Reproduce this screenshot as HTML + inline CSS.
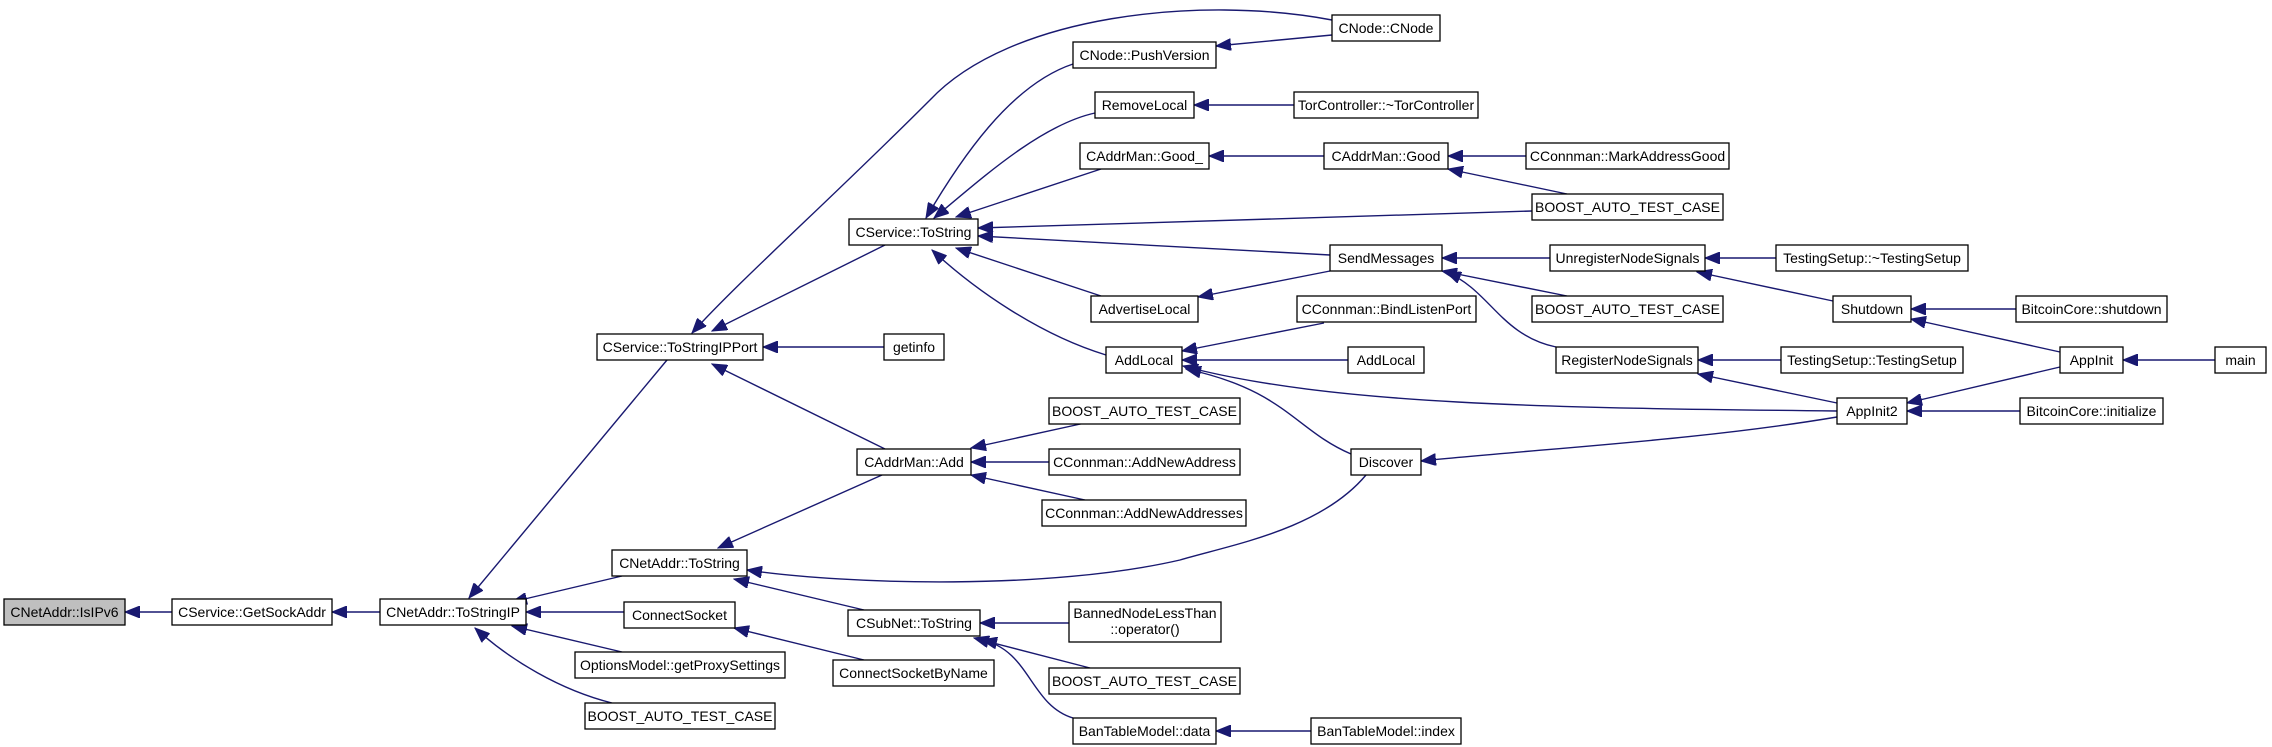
<!DOCTYPE html>
<html><head><meta charset="utf-8"><style>
html,body{margin:0;padding:0;background:#fff;}
svg{display:block;}
text{font-family:"Liberation Sans",Arial,sans-serif;font-size:14px;fill:#000;}
.e{fill:none;stroke:#191970;stroke-width:1.4;marker-end:url(#a);}
rect{fill:#fff;stroke:#000;stroke-width:1.3;}
</style></head><body>
<svg width="2272" height="747" viewBox="0 0 2272 747" xmlns="http://www.w3.org/2000/svg">
<defs><marker id="a" markerUnits="userSpaceOnUse" markerWidth="16" markerHeight="12" refX="15" refY="6" orient="auto"><path d="M0,0 L15,6 L0,12 z" fill="#191970" stroke="#191970"/></marker></defs>
<g>
<path class="e" d="M172,612 L125,612"/>
<path class="e" d="M380,612 L332,612"/>
<path class="e" d="M667,360 L469,598"/>
<path class="e" d="M622,576 L512,602"/>
<path class="e" d="M624,612 L526,612"/>
<path class="e" d="M622,652 L512,626"/>
<path class="e" d="M612,703 C560,690 510,660 475,628"/>
<path class="e" d="M885,245 L712,331"/>
<path class="e" d="M884,347 L763,347"/>
<path class="e" d="M885,449 L712,364"/>
<path class="e" d="M1332,20 C1200,-5 1010,15 930,100 C830,200 740,280 692,333"/>
<path class="e" d="M1073,64 C1010,85 960,160 926,218"/>
<path class="e" d="M1332,35 L1216,46"/>
<path class="e" d="M1095,113 C1040,125 980,180 934,218"/>
<path class="e" d="M1294,105 L1194,105"/>
<path class="e" d="M1101,169 L956,217"/>
<path class="e" d="M1324,156 L1448,156" style="marker-end:none"/>
<path class="e" d="M1324,156 L1209,156"/>
<path class="e" d="M1526,156 L1448,156"/>
<path class="e" d="M1567,194 L1448,169"/>
<path class="e" d="M1532,211 L978,228"/>
<path class="e" d="M1330,255 L978,236"/>
<path class="e" d="M1101,296 L956,248"/>
<path class="e" d="M1106,355 C1040,335 975,290 932,250"/>
<path class="e" d="M1330,271 L1198,297"/>
<path class="e" d="M1550,258 L1442,258"/>
<path class="e" d="M1567,296 L1442,271"/>
<path class="e" d="M1556,347 C1500,335 1490,290 1446,272"/>
<path class="e" d="M1776,258 L1705,258"/>
<path class="e" d="M1833,301 L1697,272"/>
<path class="e" d="M2016,309 L1911,309"/>
<path class="e" d="M2060,352 L1911,319"/>
<path class="e" d="M2215,360 L2123,360"/>
<path class="e" d="M1781,360 L1698,360"/>
<path class="e" d="M1837,403 L1698,374"/>
<path class="e" d="M2060,367 L1907,403"/>
<path class="e" d="M2020,411 L1907,411"/>
<path class="e" d="M1837,411 C1550,408 1330,405 1183,366"/>
<path class="e" d="M1324,323 L1182,351"/>
<path class="e" d="M1348,360 L1182,360"/>
<path class="e" d="M1351,454 C1295,430 1285,390 1186,369"/>
<path class="e" d="M1837,417 C1700,440 1550,448 1421,461"/>
<path class="e" d="M1366,475 C1320,530 1230,545 1180,560 C1050,590 850,585 747,570"/>
<path class="e" d="M882,475 L718,548"/>
<path class="e" d="M864,610 L734,579"/>
<path class="e" d="M864,660 L734,628"/>
<path class="e" d="M1085,423 L971,448"/>
<path class="e" d="M1049,462 L971,462"/>
<path class="e" d="M1085,500 L971,475"/>
<path class="e" d="M1069,623 L980,623"/>
<path class="e" d="M1090,668 L974,638"/>
<path class="e" d="M1073,718 C1030,705 1030,650 982,640"/>
<path class="e" d="M1311,731 L1216,731"/>
</g>
<g>
<rect x="4" y="599" width="121" height="26" style="fill:#bfbfbf"/><text x="64.5" y="617" text-anchor="middle">CNetAddr::IsIPv6</text>
<rect x="172" y="599" width="160" height="26"/><text x="252" y="617" text-anchor="middle">CService::GetSockAddr</text>
<rect x="380" y="599" width="146" height="26"/><text x="453" y="617" text-anchor="middle">CNetAddr::ToStringIP</text>
<rect x="597" y="334" width="166" height="26"/><text x="680" y="352" text-anchor="middle">CService::ToStringIPPort</text>
<rect x="884" y="334" width="60" height="26"/><text x="914" y="352" text-anchor="middle">getinfo</text>
<rect x="849" y="219" width="129" height="26"/><text x="913.5" y="237" text-anchor="middle">CService::ToString</text>
<rect x="857" y="449" width="114" height="26"/><text x="914" y="467" text-anchor="middle">CAddrMan::Add</text>
<rect x="612" y="550" width="135" height="26"/><text x="679.5" y="568" text-anchor="middle">CNetAddr::ToString</text>
<rect x="624" y="602" width="111" height="26"/><text x="679.5" y="620" text-anchor="middle">ConnectSocket</text>
<rect x="575" y="652" width="210" height="26"/><text x="680" y="670" text-anchor="middle">OptionsModel::getProxySettings</text>
<rect x="585" y="703" width="190" height="26"/><text x="680" y="721" text-anchor="middle">BOOST_AUTO_TEST_CASE</text>
<rect x="848" y="610" width="132" height="26"/><text x="914" y="628" text-anchor="middle">CSubNet::ToString</text>
<rect x="833" y="660" width="161" height="26"/><text x="913.5" y="678" text-anchor="middle">ConnectSocketByName</text>

<rect x="1073" y="42" width="143" height="26"/><text x="1144.5" y="60" text-anchor="middle">CNode::PushVersion</text>
<rect x="1095" y="92" width="99" height="26"/><text x="1144.5" y="110" text-anchor="middle">RemoveLocal</text>
<rect x="1080" y="143" width="129" height="26"/><text x="1144.5" y="161" text-anchor="middle">CAddrMan::Good_</text>
<rect x="1091" y="296" width="107" height="26"/><text x="1144.5" y="314" text-anchor="middle">AdvertiseLocal</text>
<rect x="1106" y="347" width="76" height="26"/><text x="1144" y="365" text-anchor="middle">AddLocal</text>
<rect x="1049" y="398" width="191" height="26"/><text x="1144.5" y="416" text-anchor="middle">BOOST_AUTO_TEST_CASE</text>
<rect x="1049" y="449" width="191" height="26"/><text x="1144.5" y="467" text-anchor="middle">CConnman::AddNewAddress</text>
<rect x="1042" y="500" width="204" height="26"/><text x="1144" y="518" text-anchor="middle">CConnman::AddNewAddresses</text>
<rect x="1069" y="602" width="152" height="40"/><text x="1145" y="618" text-anchor="middle">BannedNodeLessThan</text><text x="1145" y="634" text-anchor="middle">::operator()</text>
<rect x="1049" y="668" width="191" height="26"/><text x="1144.5" y="686" text-anchor="middle">BOOST_AUTO_TEST_CASE</text>
<rect x="1073" y="718" width="143" height="26"/><text x="1144.5" y="736" text-anchor="middle">BanTableModel::data</text>

<rect x="1332" y="15" width="108" height="26"/><text x="1386" y="33" text-anchor="middle">CNode::CNode</text>
<rect x="1294" y="92" width="184" height="26"/><text x="1386" y="110" text-anchor="middle">TorController::~TorController</text>
<rect x="1324" y="143" width="124" height="26"/><text x="1386" y="161" text-anchor="middle">CAddrMan::Good</text>
<rect x="1330" y="245" width="112" height="26"/><text x="1386" y="263" text-anchor="middle">SendMessages</text>
<rect x="1297" y="296" width="179" height="26"/><text x="1386.5" y="314" text-anchor="middle">CConnman::BindListenPort</text>
<rect x="1348" y="347" width="76" height="26"/><text x="1386" y="365" text-anchor="middle">AddLocal</text>
<rect x="1351" y="449" width="70" height="26"/><text x="1386" y="467" text-anchor="middle">Discover</text>
<rect x="1311" y="718" width="150" height="26"/><text x="1386" y="736" text-anchor="middle">BanTableModel::index</text>

<rect x="1526" y="143" width="203" height="26"/><text x="1627.5" y="161" text-anchor="middle">CConnman::MarkAddressGood</text>
<rect x="1532" y="194" width="191" height="26"/><text x="1627.5" y="212" text-anchor="middle">BOOST_AUTO_TEST_CASE</text>
<rect x="1550" y="245" width="155" height="26"/><text x="1627.5" y="263" text-anchor="middle">UnregisterNodeSignals</text>
<rect x="1532" y="296" width="191" height="26"/><text x="1627.5" y="314" text-anchor="middle">BOOST_AUTO_TEST_CASE</text>
<rect x="1556" y="347" width="142" height="26"/><text x="1627" y="365" text-anchor="middle">RegisterNodeSignals</text>

<rect x="1776" y="245" width="192" height="26"/><text x="1872" y="263" text-anchor="middle">TestingSetup::~TestingSetup</text>
<rect x="1833" y="296" width="78" height="26"/><text x="1872" y="314" text-anchor="middle">Shutdown</text>
<rect x="1781" y="347" width="182" height="26"/><text x="1872" y="365" text-anchor="middle">TestingSetup::TestingSetup</text>
<rect x="1837" y="398" width="70" height="26"/><text x="1872" y="416" text-anchor="middle">AppInit2</text>

<rect x="2016" y="296" width="151" height="26"/><text x="2091.5" y="314" text-anchor="middle">BitcoinCore::shutdown</text>
<rect x="2060" y="347" width="63" height="26"/><text x="2091.5" y="365" text-anchor="middle">AppInit</text>
<rect x="2020" y="398" width="143" height="26"/><text x="2091.5" y="416" text-anchor="middle">BitcoinCore::initialize</text>
<rect x="2215" y="347" width="51" height="26"/><text x="2240.5" y="365" text-anchor="middle">main</text>
</g>
</svg>
</body></html>
